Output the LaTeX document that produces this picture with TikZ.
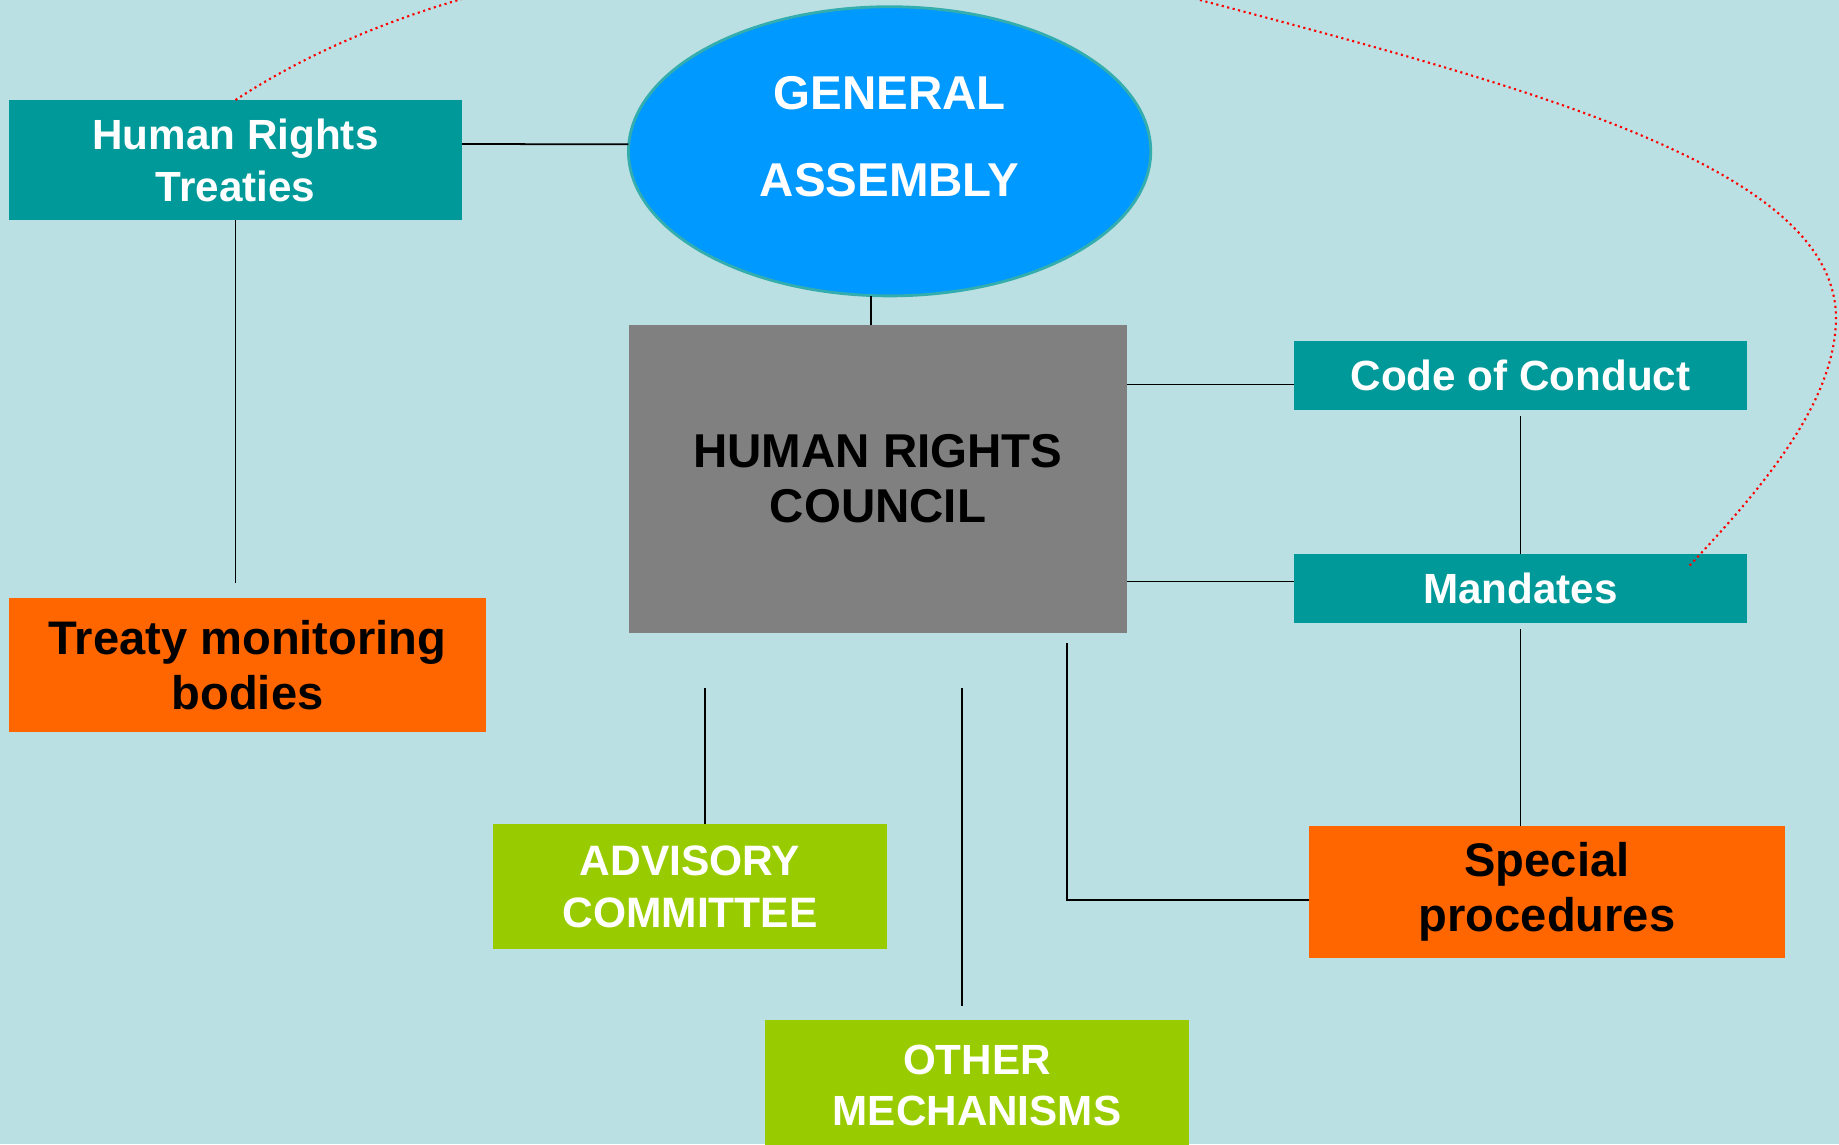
\documentclass[tikz,border=0pt]{standalone}
\usepackage{fontspec}
\setmainfont{Liberation Sans}
\usetikzlibrary{shapes.geometric,calc}

\definecolor{sky}{RGB}{187,224,227}
\definecolor{hrteal}{RGB}{0,153,153}
\definecolor{gablue}{RGB}{0,153,255}
\definecolor{hrcgray}{RGB}{128,128,128}
\definecolor{hrorange}{RGB}{255,102,0}
\definecolor{hrgreen}{RGB}{153,204,0}

\begin{document}
\begin{tikzpicture}[x=0.01cm, y=-0.01cm, line width=0.5pt,
    every node/.style={inner sep=0pt, outer sep=0pt, align=center},
    tealbox/.style={fill=hrteal, text=white, minimum width=4.53cm, font=\bfseries\fontsize{12}{14.8}\selectfont},
    orangebox/.style={fill=hrorange, text=black, font=\bfseries\fontsize{13.4}{15.6}\selectfont},
    greenbox/.style={fill=hrgreen, text=white, font=\bfseries\fontsize{12.1}{14.7}\selectfont},
    thread/.style={draw=red, densely dotted, line width=0.6pt}]

    \useasboundingbox (0,0) rectangle (1839,1144);
    \clip (0,0) rectangle (1839,1144);
    \fill[sky] (0,0) rectangle (1839,1144);

    \node[ellipse, fill=gablue, draw=hrteal!80, line width=0.8pt, minimum width=5.22cm, minimum height=2.89cm,
          text=white, font=\bfseries\fontsize{13.5}{24.7}\selectfont] (ga) at (889.6,151.3) {GENERAL\\ASSEMBLY\rule[-0.3cm]{0pt}{0pt}};
    \node[tealbox, minimum height=1.20cm] (hrt) at (235.5,160) {Human Rights\\Treaties};
    \node[orangebox, minimum width=4.77cm, minimum height=1.34cm] (tmb) at (247.5,665) {Treaty monitoring\\bodies};
    \node[fill=hrcgray, minimum width=4.98cm, minimum height=3.08cm,
          font=\bfseries\fontsize{13.5}{15.6}\selectfont] (hrc) at (878,479) {HUMAN RIGHTS\\COUNCIL};
    \node[tealbox, minimum height=0.69cm] (coc) at (1520.5,375.5) {Code of Conduct};
    \node[tealbox, minimum height=0.69cm] (mand) at (1520.5,588.5) {Mandates};
    \node[orangebox, minimum width=4.76cm, minimum height=1.32cm] (sp) at (1547,892) {Special\\procedures};
    \node[greenbox, minimum width=3.94cm, minimum height=1.25cm] (adv) at (690,886.5) {ADVISORY\\COMMITTEE};
    \node[greenbox, minimum width=4.24cm, minimum height=1.30cm,
          font=\bfseries\fontsize{12}{14.5}\selectfont] (om) at (977,1085) {OTHER\\MECHANISMS};

    \coordinate (gafoot) at ($(hrc.north)+(-7,0)$);

    \draw ($(hrt.east)+(0,-16)$) -- ($(ga.west)+(0,-7)$);
    \draw (hrt.south) -- ($(hrt.south |- tmb.north)+(0,-15)$);
    \draw (gafoot) -- (gafoot |- ga.south);
    \draw ($(coc.west)+(0,9)$) -- ($(coc.west -| hrc.east)+(0,9)$);
    \draw ($(mand.west)+(0,-7)$) -- ($(mand.west -| hrc.east)+(0,-7)$);
    \draw ([yshift=-0.06cm]coc.south) -- (mand.north);
    \draw ([yshift=-0.06cm]mand.south) -- (mand.south |- sp.north);
    \draw ($(hrc.south)+(189,10)$) |- ($(sp.west)+(0,8)$);
    \draw ($(adv.north)+(15,0)$) -- ($(adv.north |- hrc.south)+(15,55)$);
    \draw ($(om.north)+(-15,-14)$) -- ($(om.north |- hrc.south)+(-15,55)$);

    % treaties tied to the mandates, over the top
    \draw[thread] (hrt.north) .. controls (480,-60) and (880,-90) .. (1200,0)
        .. controls (1540,90) and (1838,170) .. (1836,320)
        .. controls (1834,400) and (1770,480) .. ($(mand.north east)+(-58,12)$);

\end{tikzpicture}
\end{document}
